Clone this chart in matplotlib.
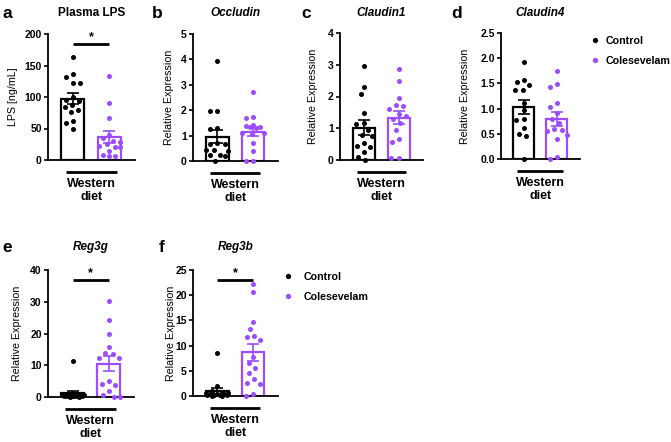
import numpy as np
import matplotlib
matplotlib.use("Agg")
import matplotlib.pyplot as plt
import matplotlib.transforms as mtransforms
from matplotlib.lines import Line2D
from matplotlib.ticker import FormatStrFormatter

plt.rcParams['font.family'] = ['Liberation Sans', 'DejaVu Sans']

W, H = 671, 442
groups = ['Control', 'Colesevelam']
colors = ['black', '#9B4DFF']

# individual values
lps_ctrl = [164, 136, 132, 123, 122, 100, 96, 93, 88, 84, 80, 76, 62, 58, 50]
lps_cole = [133, 91, 67, 40, 35, 30, 28, 25, 22, 20, 20, 15, 8, 7, 6]

occ_ctrl = [3.95, 1.98, 1.98, 1.28, 1.25, 0.72, 0.68, 0.65, 0.45, 0.43, 0.40, 0.24, 0.22, 0.20, 0.0]
occ_cole = [2.73, 1.75, 1.70, 1.42, 1.38, 1.35, 1.32, 1.28, 1.12, 1.10, 1.08, 0.70, 0.38, 0.0, 0.0]

cl1_ctrl = [2.96, 2.31, 2.09, 1.47, 1.15, 1.12, 0.95, 0.80, 0.75, 0.55, 0.45, 0.42, 0.24, 0.08, 0.0]
cl1_cole = [2.87, 2.49, 1.94, 1.72, 1.70, 1.60, 1.45, 1.40, 1.28, 1.15, 0.95, 0.66, 0.57, 0.05, 0.05]

cl4_ctrl = [1.93, 1.57, 1.52, 1.46, 1.37, 1.36, 1.12, 0.97, 0.80, 0.78, 0.62, 0.50, 0.45, 0.0]
cl4_cole = [1.75, 1.49, 1.42, 1.12, 1.04, 0.92, 0.80, 0.72, 0.60, 0.58, 0.55, 0.48, 0.40, 0.04, 0.0]

reg3g_ctrl = [11.2, 1.0, 0.8, 0.7, 0.6, 0.5, 0.5, 0.4, 0.4, 0.3, 0.3, 0.2, 0.2, 0.1, 0.1]
reg3g_cole = [30.3, 24.1, 19.9, 15.9, 13.8, 13.4, 12.3, 12.3, 4.9, 4.0, 3.8, 1.9, 0.5, 0.1, 0.0]

reg3b_ctrl = [8.6, 2.0, 0.9, 0.8, 0.6, 0.5, 0.4, 0.3, 0.3, 0.2, 0.2, 0.1, 0.1, 0.05, 0.05]
reg3b_cole = [22.2, 20.7, 14.7, 13.3, 12.0, 11.8, 11.2, 7.8, 6.5, 5.5, 4.5, 3.3, 2.6, 2.4, 0.4, 0.0]

titles = ['Plasma LPS', 'Occludin', 'Claudin1', 'Claudin4', 'Reg3g', 'Reg3b']
letters = ['a', 'b', 'c', 'd', 'e', 'f']
ylabels = ['LPS [ng/mL]'] + ['Relative Expression'] * 5
yticks = [[0, 50, 100, 150, 200], [0, 1, 2, 3, 4, 5], [0, 1, 2, 3, 4],
          [0, 0.5, 1.0, 1.5, 2.0, 2.5], [0, 10, 20, 30, 40], [0, 5, 10, 15, 20, 25]]
significant = [True, False, False, False, True, True]
data = [(lps_ctrl, lps_cole), (occ_ctrl, occ_cole), (cl1_ctrl, cl1_cole),
        (cl4_ctrl, cl4_cole), (reg3g_ctrl, reg3g_cole), (reg3b_ctrl, reg3b_cole)]

# axes boxes in pixels: left, top, right, bottom
boxes = [(48, 34, 135, 160), (193, 34, 278, 161), (340, 33, 423, 160),
         (501, 33, 580, 159), (48, 270, 134, 397), (193, 270, 278, 396)]
ylab_x = [13, 168, 312, 464, 17, 170]
title_y = [13, 13, 13, 13, 247, 247]
letter_x = [7, 157, 306, 457, 7, 162]

XLIM = (-0.68, 1.70)
BAR_W = 0.63

fig = plt.figure(figsize=(W / 100, H / 100), dpi=100)


def ftext(x, y, s, **kw):
    fig.text(x / W, 1 - y / H, s, **kw)


def swarm(vals, ypx, d=7.5, limit=11.0):
    # simple beeswarm in pixel units, returns x offsets in pixels
    vals = np.asarray(vals, float)
    order = np.argsort(vals)[::-1]
    placed = []
    xs = np.zeros(len(vals))
    for i in order:
        y = vals[i] * ypx
        near = [(px, py) for px, py in placed if abs(py - y) < d]
        cands = [0.0]
        for px, py in near:
            dx = np.sqrt(d * d - (py - y) ** 2)
            cands += [px - dx, px + dx]
        cands = sorted(cands, key=lambda c: (abs(c), c))
        best = None
        for c in cands:
            if abs(c) > limit + 1e-9:
                continue
            if all((c - px) ** 2 + (y - py) ** 2 >= d * d - 1e-6 for px, py in near):
                best = c
                break
        if best is None:
            grid = np.linspace(-limit, limit, 23)
            best = max(grid, key=lambda c: min((c - px) ** 2 + (y - py) ** 2 for px, py in near))
        xs[i] = best
        placed.append((best, y))
    return xs


for k in range(6):
    l, t, r, b = boxes[k]
    ax = fig.add_axes([l / W, 1 - b / H, (r - l) / W, (b - t) / H])
    ymax = yticks[k][-1]
    ax.set_xlim(*XLIM)
    ax.set_ylim(0, ymax)
    xppu = (r - l) / (XLIM[1] - XLIM[0])
    yppu = (b - t) / ymax

    for g in range(2):
        vals = np.asarray(data[k][g], float)
        mean = vals.mean()
        sem = vals.std(ddof=1) / np.sqrt(len(vals))
        ax.bar(g, mean, width=BAR_W, facecolor='white', edgecolor=colors[g],
               linewidth=1.6, zorder=1)
        xo = swarm(vals, yppu) / xppu
        ax.scatter(g + xo, vals, s=13, color=colors[g], linewidths=0,
                   zorder=3, clip_on=False)
        ax.errorbar(g, mean, yerr=sem, color=colors[g], capsize=4.5,
                    elinewidth=1.2, capthick=1.2, zorder=4)

    for side in ['top', 'right']:
        ax.spines[side].set_visible(False)
    for side in ['left', 'bottom']:
        ax.spines[side].set_linewidth(1.3)
    ax.set_xticks([])
    ax.set_yticks(yticks[k])
    if k == 3:
        ax.yaxis.set_major_formatter(FormatStrFormatter('%.1f'))
    ax.tick_params(axis='y', length=3, width=1.2, pad=1.5)
    for lab in ax.get_yticklabels():
        lab.set_fontweight('bold')
        lab.set_fontsize(7.5)

    ax.set_ylabel(ylabels[k], fontsize=7.7)
    ax.yaxis.set_label_coords((ylab_x[k] + 5.5 - l) / (r - l), 0.5)

    # group line and label below the axis
    trans = mtransforms.blended_transform_factory(ax.transData, ax.transAxes)
    hh = b - t
    ax.plot([-0.2, 1.2], [-12 / hh, -12 / hh], color='black', lw=2.0,
            transform=trans, clip_on=False, solid_capstyle='butt')
    ax.text(0.5, -30.5 / hh, 'Western\ndiet', transform=trans, ha='center',
            va='center', fontsize=9, fontweight='bold', linespacing=1.2)

    if significant[k]:
        sy = 0.92 * ymax
        ax.plot([0, 1], [sy, sy], color='black', lw=2.0, clip_on=False,
                solid_capstyle='butt')
        ax.annotate('*', xy=(0.5, sy), xytext=(0, 1), textcoords='offset points',
                    ha='center', va='bottom', fontsize=9, fontweight='bold')

    cx = (l + r) / 2
    style = 'normal' if k == 0 else 'italic'
    ftext(cx, title_y[k], titles[k], ha='center', va='center', fontsize=8.5,
          fontweight='bold', fontstyle=style)
    ftext(letter_x[k], title_y[k], letters[k], ha='center', va='center',
          fontsize=12.5, fontweight='bold')

    if k in (3, 5):
        if k == 3:
            anchor, tpad = (591, 36), 0.6
        else:
            anchor, tpad = (284, 272), 1.0
        handles = [Line2D([], [], marker='o', ls='', color=c, markersize=3.8,
                          markeredgewidth=0) for c in colors]
        ax.legend(handles, groups, frameon=False, loc='upper left',
                  bbox_to_anchor=(anchor[0] / W, 1 - anchor[1] / H),
                  bbox_transform=fig.transFigure, borderpad=0, borderaxespad=0,
                  handlelength=0.8, handletextpad=tpad, labelspacing=0.9,
                  prop={'weight': 'bold', 'size': 7.7})

fig.savefig('out.png', dpi=100)
